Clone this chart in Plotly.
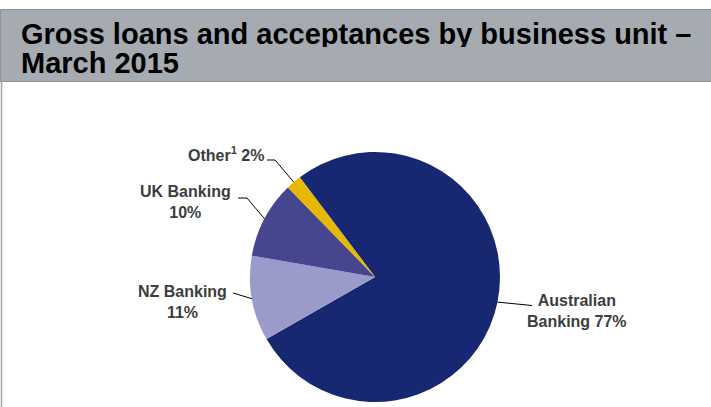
import math
import plotly.graph_objects as go

# ---- data ----
categories = ["Australian Banking", "NZ Banking", "UK Banking", "Other"]
shares = [77, 11, 10, 2]
label_texts = ["<b>Australian<br>Banking 77%</b>", "<b>NZ Banking<br>11%</b>", "<b>UK Banking<br>10%</b>",
               "<b>Other<sup>1</sup> 2%</b>"]
title_lines = ["Gross loans and acceptances by business unit \u2013", "March 2015"]

# ---- style / layout constants ----
W, H = 711, 407
colors = ["#172772", "#9B9BCB", "#46468F", "#E6B800"]
cx, cy, R = 375, 277, 125
rotation = -37
label_pos = [(577, 311), (182, 302), (185, 202), (226, 154)]
# leader start points (label side) and optional elbow
leader_start = [[(532, 305.5)], [(233, 293)], [(238, 198), (247, 198)], [(267, 160), (275, 160)]]
label_color = "#3D3D3D"
font_family = "Liberation Sans, Arial, sans-serif"

fig = go.Figure()

fig.add_trace(go.Pie(
    labels=categories, values=shares, sort=False, direction="clockwise",
    rotation=rotation, marker=dict(colors=colors, line=dict(width=0)),
    textinfo="none", hoverinfo="label+percent", showlegend=False,
    domain=dict(x=[(cx - R) / W, (cx + R) / W], y=[1 - (cy + R) / H, 1 - (cy - R) / H]),
))

# invisible trace to establish pixel-coordinate axes
fig.add_trace(go.Scatter(x=[0, W], y=[0, H], mode="markers", marker=dict(opacity=0, size=1),
                         hoverinfo="skip", showlegend=False))

shapes = []
# title bar
shapes.append(dict(type="rect", xref="x", yref="y", x0=0.5, x1=W + 5, y0=9.5, y1=81.5,
                   fillcolor="#A6ABB1", line=dict(color="#8E9399", width=1), layer="below"))
# left border line
shapes.append(dict(type="line", xref="x", yref="y", x0=1.5, x1=1.5, y0=81.5, y1=H + 5,
                   line=dict(color="#A5A5A5", width=1.5)))

# leader lines computed from slice mid-angles
total = sum(shares)
cum = 0
for i, v in enumerate(shares):
    mid = rotation + (cum + v / 2) / total * 360
    cum += v
    a = math.radians(mid)
    ex, ey = cx + R * math.sin(a), cy - R * math.cos(a)
    pts = leader_start[i] + [(ex, ey)]
    path = "M " + " L ".join(f"{px:.1f},{py:.1f}" for px, py in pts)
    shapes.append(dict(type="path", xref="x", yref="y", path=path, line=dict(color="#000000", width=1)))

annotations = []
for (lx, ly), t in zip(label_pos, label_texts):
    annotations.append(dict(x=lx, y=ly, xref="x", yref="y", text=t, showarrow=False,
                            xanchor="center", yanchor="middle", align="center",
                            font=dict(family=font_family, size=16, color=label_color)))

title_y = [33, 62]
for t, ty in zip(title_lines, title_y):
    annotations.append(dict(x=19, y=ty, xref="x", yref="y", text=f"<b>{t}</b>", showarrow=False,
                            xanchor="left", yanchor="middle", height=27, valign="middle",
                            font=dict(family=font_family, size=29, color="#000000")))

fig.update_layout(
    width=W, height=H, margin=dict(l=0, r=0, t=0, b=0),
    paper_bgcolor="white", plot_bgcolor="rgba(0,0,0,0)",
    xaxis=dict(range=[0, W], visible=False, fixedrange=True, domain=[0, 1]),
    yaxis=dict(range=[H, 0], visible=False, fixedrange=True, domain=[0, 1]),
    shapes=shapes, annotations=annotations,
    font=dict(family=font_family),
)

fig.write_html("out.html", config={"displayModeBar": False},
               post_script="document.body.style.margin='0';document.body.style.overflow='hidden';")
